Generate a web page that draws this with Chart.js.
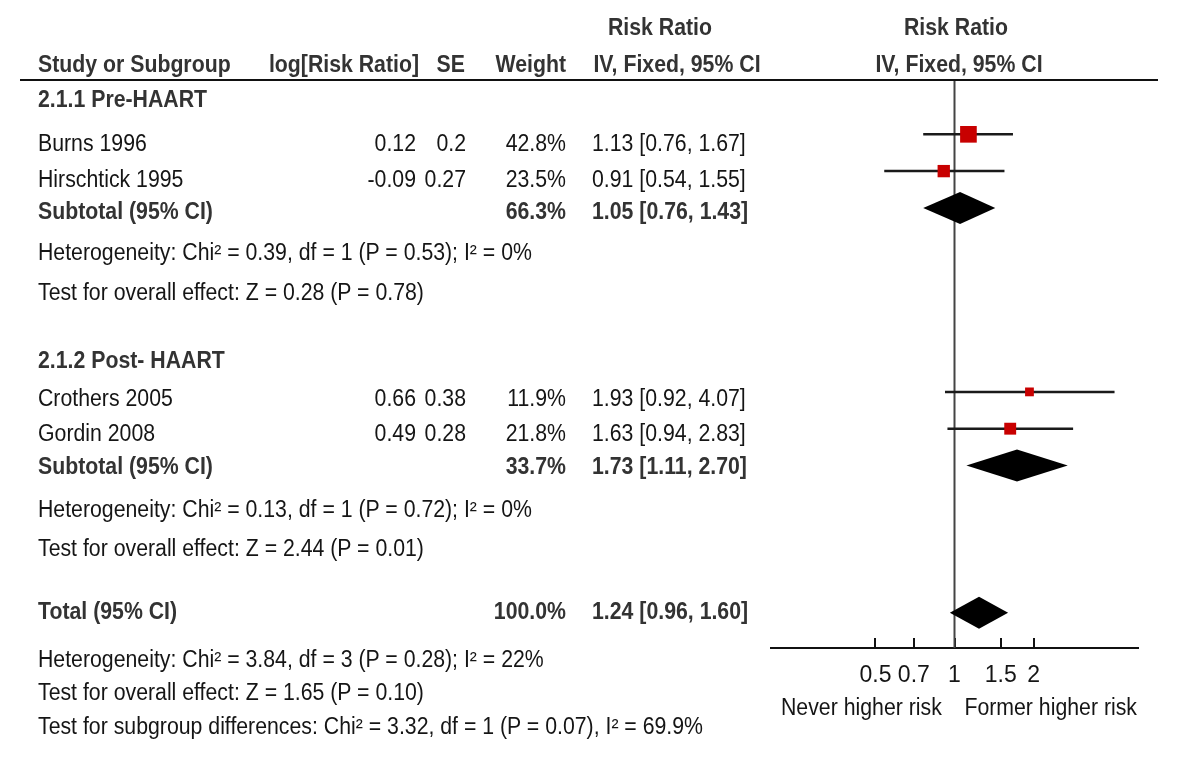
<!DOCTYPE html>
<html>
<head>
<meta charset="utf-8">
<script src="https://cdn.jsdelivr.net/npm/chart.js@4.4.1/dist/chart.umd.min.js"></script>
<style>
  body { margin: 0; background: #fff; }
  #wrap { position: relative; width: 1200px; height: 783px; overflow: hidden; }
  #plot { position: absolute; left: 0; top: 0; }
  .t { position: absolute; white-space: nowrap; font-family: "Liberation Sans", Arial, sans-serif;
       font-size: 23px; line-height: 23px; color: #151515; transform-origin: 0 0; }
  .b { font-weight: bold; color: #333; }
  #rule { position: absolute; left: 20px; top: 79px; width: 1138px; height: 2px; background: #111; }
</style>
</head>
<body>
<div id="wrap">
  <canvas id="plot" width="1200" height="783"></canvas>
  <div id="rule"></div>
  <div id="txt"></div>
</div>
<script>
// studies
const groups = ["2.1.1 Pre-HAART", "2.1.2 Post- HAART"];
const studies = ["Burns 1996", "Hirschtick 1995", "Crothers 2005", "Gordin 2008"];
const logRR = ["0.12", "-0.09", "0.66", "0.49"];
const se = ["0.2", "0.27", "0.38", "0.28"];
const weight = [42.8, 23.5, 11.9, 21.8];
const rr = [1.13, 0.91, 1.93, 1.63];
const ciLow = [0.76, 0.54, 0.92, 0.94];
const ciHigh = [1.67, 1.55, 4.07, 2.83];
const studyRows = [0, 1, 7, 8];

// subtotals + total
const pooledWeight = [66.3, 33.7, 100.0];
const pooledRR = [1.05, 1.73, 1.24];
const pooledLow = [0.76, 1.11, 0.96];
const pooledHigh = [1.43, 2.70, 1.60];
const pooledRows = [2, 9, 13];

const hetText = [
  "Heterogeneity: Chi² = 0.39, df = 1 (P = 0.53); I² = 0%",
  "Heterogeneity: Chi² = 0.13, df = 1 (P = 0.72); I² = 0%",
  "Heterogeneity: Chi² = 3.84, df = 3 (P = 0.28); I² = 22%"
];
const effectText = [
  "Test for overall effect: Z = 0.28 (P = 0.78)",
  "Test for overall effect: Z = 2.44 (P = 0.01)",
  "Test for overall effect: Z = 1.65 (P = 0.10)"
];
const subgroupText = "Test for subgroup differences: Chi² = 3.32, df = 1 (P = 0.07), I² = 69.9%";

const tickValues = [0.5, 0.7, 1, 1.5, 2];
const X_MIN = 0.2, X_MAX = 5;
const Y_MIN = -1.476, Y_MAX = 13.96;

const fmtCI = (e, l, h) => e.toFixed(2) + " [" + l.toFixed(2) + ", " + h.toFixed(2) + "]";

// ---- table text ----
const SX = 0.925;
const txt = document.getElementById("txt");
function put(str, x, y, align, bold) {
  const d = document.createElement("div");
  d.className = "t" + (bold ? " b" : "");
  d.textContent = str;
  d.style.left = x + "px";
  d.style.top = (y - 11.5) + "px";
  const shift = align === "r" ? " translateX(-100%)" : align === "c" ? " translateX(-50%)" : "";
  d.style.transform = "scaleX(" + SX + ")" + shift;
  txt.appendChild(d);
}

put("Risk Ratio", 660, 27, "c", true);
put("Risk Ratio", 956, 27, "c", true);
put("Study or Subgroup", 38, 64, "l", true);
put("log[Risk Ratio]", 419, 64, "r", true);
put("SE", 465, 64, "r", true);
put("Weight", 566, 64, "r", true);
put("IV, Fixed, 95% CI", 677, 64, "c", true);
put("IV, Fixed, 95% CI", 959, 64, "c", true);

const groupY = [99, 360];
const studyY = [143, 179, 398, 433];
const subY = [211, 466, 611];
const hetY = [252, 509, 659];
const effY = [292, 548, 692];

groups.forEach((g, i) => put(g, 38, groupY[i], "l", true));
studies.forEach((s, i) => {
  put(s, 38, studyY[i], "l");
  put(logRR[i], 416, studyY[i], "r");
  put(se[i], 466, studyY[i], "r");
  put(weight[i].toFixed(1) + "%", 566, studyY[i], "r");
  put(fmtCI(rr[i], ciLow[i], ciHigh[i]), 592, studyY[i], "l");
});
pooledRR.forEach((v, i) => {
  put(i < 2 ? "Subtotal (95% CI)" : "Total (95% CI)", 38, subY[i], "l", true);
  put(pooledWeight[i].toFixed(1) + "%", 566, subY[i], "r", true);
  put(fmtCI(v, pooledLow[i], pooledHigh[i]), 592, subY[i], "l", true);
  put(hetText[i], 38, hetY[i], "l");
  put(effectText[i], 38, effY[i], "l");
});
put(subgroupText, 38, 726, "l");
put("Never higher risk", 781, 707, "l");
put("Former higher risk", 1137, 707, "r");

// ---- forest plot ----
const diamonds = {
  id: "diamonds",
  afterDatasetsDraw(chart) {
    const { ctx, scales } = chart;
    const x = scales.x, y = scales.y;
    ctx.save();
    ctx.fillStyle = "#000";
    pooledRR.forEach((v, i) => {
      const yc = y.getPixelForValue(pooledRows[i]);
      const xm = x.getPixelForValue(v);
      ctx.beginPath();
      ctx.moveTo(x.getPixelForValue(pooledLow[i]), yc);
      ctx.lineTo(xm, yc - 16);
      ctx.lineTo(x.getPixelForValue(pooledHigh[i]), yc);
      ctx.lineTo(xm, yc + 16);
      ctx.closePath();
      ctx.fill();
    });
    ctx.restore();
  }
};

const datasets = [];
datasets.push({
  type: "scatter",
  data: rr.map((v, i) => ({ x: v, y: studyRows[i] })),
  pointStyle: "rect",
  pointRadius: ctx => 1.8 * Math.sqrt(weight[ctx.dataIndex]),
  backgroundColor: "#c80000",
  borderWidth: 0,
  order: 0
});
studies.forEach((s, i) => {
  datasets.push({
    type: "line",
    data: [{ x: ciLow[i], y: studyRows[i] }, { x: ciHigh[i], y: studyRows[i] }],
    borderColor: "#1a1a1a",
    borderWidth: 2.5,
    pointRadius: 0,
    order: 1
  });
});
datasets.push({
  type: "line",
  data: [{ x: 1, y: Y_MIN }, { x: 1, y: Y_MAX }],
  borderColor: "#444",
  borderWidth: 2,
  pointRadius: 0,
  order: 2
});

new Chart(document.getElementById("plot"), {
  type: "scatter",
  data: { datasets },
  options: {
    responsive: false,
    animation: false,
    devicePixelRatio: 1,
    layout: { padding: { left: 771, right: 62, top: 80, bottom: 75 } },
    plugins: { legend: { display: false }, tooltip: { enabled: false }, title: { display: false } },
    scales: {
      x: {
        type: "logarithmic",
        position: "bottom",
        min: X_MIN,
        max: X_MAX,
        afterBuildTicks: s => { s.ticks = tickValues.map(v => ({ value: v })); },
        afterFit: s => { s.height = 60; },
        ticks: {
          callback: v => String(v),
          autoSkip: false,
          maxRotation: 0,
          padding: 24,
          color: "#151515",
          font: { family: "Liberation Sans", size: 23 }
        },
        grid: { drawOnChartArea: false, drawTicks: true, tickLength: -10, color: "#111", lineWidth: 2 },
        border: { display: true, color: "#111", width: 2 }
      },
      y: { type: "linear", display: false, reverse: true, min: Y_MIN, max: Y_MAX }
    }
  },
  plugins: [diamonds]
});
</script>
</body>
</html>
